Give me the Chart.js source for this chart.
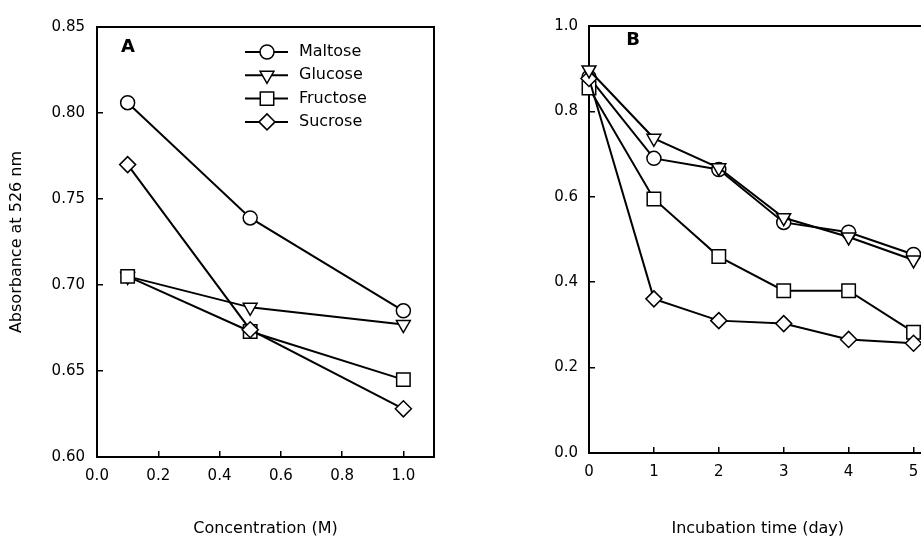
<!DOCTYPE html>
<html lang="en">
<head>
<meta charset="UTF-8">
<script src="https://cdn.jsdelivr.net/npm/chart.js@4.4.0/dist/chart.umd.min.js"></script>
<title>Absorbance at 526 nm</title>
<style>
  html, body { margin: 0; padding: 0; background: #fff; width: 921px; height: 540px; overflow: hidden; }
  #chartA { position: absolute; left: 0; top: 0; }
  #chartB { position: absolute; left: 500px; top: 0; }
</style>
</head>
<body>
<canvas id="chartA" width="460" height="540"></canvas>
<canvas id="chartB" width="460" height="540"></canvas>
<script>
// panel A: absorbance vs sugar concentration
var concA = [0.1, 0.5, 1.0];
var maltoseA = [0.806, 0.739, 0.685];
var glucoseA = [0.705, 0.687, 0.677];
var fructoseA = [0.705, 0.673, 0.645];
var sucroseA = [0.770, 0.674, 0.628];
var xTicksA = [0, 0.2, 0.4, 0.6, 0.8, 1.0];
var yTicksA = [0.60, 0.65, 0.70, 0.75, 0.80, 0.85];

// panel B: absorbance vs incubation time
var daysB = [0, 1, 2, 3, 4, 5];
var maltoseB = [0.880, 0.690, 0.664, 0.540, 0.517, 0.465];
var glucoseB = [0.897, 0.737, 0.668, 0.551, 0.506, 0.452];
var fructoseB = [0.855, 0.595, 0.460, 0.380, 0.380, 0.283];
var sucroseB = [0.877, 0.361, 0.310, 0.303, 0.266, 0.257];
var xTicksB = [0, 1, 2, 3, 4, 5];
var yTicksB = [0, 0.2, 0.4, 0.6, 0.8, 1.0];

var sugars = ['Maltose', 'Glucose', 'Fructose', 'Sucrose'];
var markers = [
    { pointStyle: 'circle', radius: 7, rotation: 0 },
    { pointStyle: 'triangle', radius: 8, rotation: 180 },
    { pointStyle: 'rect', radius: 9.5, rotation: 0 },
    { pointStyle: 'rectRot', radius: 8, rotation: 0 }
];

var FONT = 'DejaVu Sans';

// stacking of overlapping markers (lower = drawn on top)
function makeSets(xs, series, stack)
{
    return series.map(function (ys, i) {
        return {
            label: sugars[i],
            data: xs.map(function (x, j) { return { x: x, y: ys[j] }; }),
            order: stack[i],
            borderColor: '#000',
            borderWidth: 2,
            pointStyle: markers[i].pointStyle,
            pointRadius: markers[i].radius,
            pointRotation: markers[i].rotation,
            pointBackgroundColor: '#fff',
            pointBorderColor: '#000',
            pointBorderWidth: 1.5,
            showLine: true,
            tension: 0,
            fill: false,
            clip: false
        };
    });
}

function axis(pos, min, max, tickVals, digits, size, pad, title)
{
    var horiz = pos === 'bottom';
    return {
        type: 'linear',
        position: pos,
        min: min,
        max: max,
        afterBuildTicks: function (ax) { ax.ticks = tickVals.map(function (v) { return { value: v }; }); },
        afterFit: function (ax) { if (horiz) ax.height = size; else ax.width = size; },
        ticks: {
            callback: function (v) { return Number(v).toFixed(digits); },
            color: '#000',
            font: { family: FONT, size: 15 },
            padding: pad,
            maxRotation: 0,
            autoSkip: false
        },
        grid: { drawOnChartArea: false, drawTicks: true, tickLength: -6, color: '#000', lineWidth: 1.5 },
        border: { display: true, color: '#000', width: 2 },
        title: title ? {
            display: true,
            text: title,
            color: '#000',
            font: { family: FONT, size: 16 },
            padding: horiz ? { top: 0, bottom: 2 } : { top: 7, bottom: 0 }
        } : { display: false }
    };
}

function frame(pos, min, max)
{
    return {
        type: 'linear',
        position: pos,
        min: min,
        max: max,
        afterFit: function (ax) { if (pos === 'top') ax.height = 0; else ax.width = 0; },
        ticks: { display: false },
        grid: { display: false },
        border: { display: true, color: '#000', width: 2 }
    };
}

// panel letter + legend drawn by hand (legend needs line + marker)
var decorPlugin = {
    id: 'decor',
    afterDraw: function (chart, args, opts) {
        var ctx = chart.ctx;
        ctx.save();
        ctx.fillStyle = '#000';
        ctx.font = 'bold 18px ' + FONT;
        ctx.textAlign = 'center';
        ctx.textBaseline = 'middle';
        ctx.fillText(opts.letter, opts.lx, opts.ly);
        if (opts.legend) {
            ctx.font = '16px ' + FONT;
            ctx.textAlign = 'left';
            sugars.forEach(function (name, i) {
                var y = 52 + i * 23.3;
                ctx.strokeStyle = '#000';
                ctx.lineWidth = 2;
                ctx.beginPath();
                ctx.moveTo(245, y);
                ctx.lineTo(288, y);
                ctx.stroke();
                ctx.fillStyle = '#fff';
                ctx.lineWidth = 1.5;
                Chart.helpers.drawPoint(ctx, {
                    pointStyle: markers[i].pointStyle,
                    radius: markers[i].radius,
                    rotation: markers[i].rotation,
                    borderWidth: 1.5
                }, 267, y);
                ctx.fillStyle = '#000';
                ctx.fillText(name, 299, y);
            });
        }
        ctx.restore();
    }
};

var common = {
    responsive: false,
    animation: false,
    devicePixelRatio: 1,
    plugins: { legend: { display: false }, tooltip: { enabled: false } }
};

new Chart(document.getElementById('chartA').getContext('2d'), {
    type: 'scatter',
    data: { datasets: makeSets(concA, [maltoseA, glucoseA, fructoseA, sucroseA], [3, 2, 1, 0]) },
    plugins: [decorPlugin],
    options: Object.assign({}, common, {
        layout: { padding: { left: 0, top: 19, right: 26, bottom: 0 } },
        plugins: { legend: { display: false }, tooltip: { enabled: false },
                   decor: { letter: 'A', lx: 128, ly: 47, legend: true } },
        scales: {
            x: axis('bottom', 0, 1.1, xTicksA, 1, 83, 16, 'Concentration (M)'),
            y: axis('left', 0.60, 0.85, yTicksA, 2, 97, 18, 'Absorbance at 526 nm'),
            x2: frame('top', 0, 1.1),
            y2: frame('right', 0.60, 0.85)
        }
    })
});

new Chart(document.getElementById('chartB').getContext('2d'), {
    type: 'scatter',
    data: { datasets: makeSets(daysB, [maltoseB, glucoseB, fructoseB, sucroseB], [3, 0, 2, 1]) },
    plugins: [decorPlugin],
    options: Object.assign({}, common, {
        layout: { padding: { left: 0, top: 15, right: 33.5, bottom: 0 } },
        plugins: { legend: { display: false }, tooltip: { enabled: false },
                   decor: { letter: 'B', lx: 133, ly: 40, legend: false } },
        scales: {
            x: axis('bottom', 0, 5.2, xTicksB, 0, 87, 16, 'Incubation time (day)'),
            y: axis('left', 0, 1.0, yTicksB, 1, 89, 17, null),
            x2: frame('top', 0, 5.2),
            y2: frame('right', 0, 1.0)
        }
    })
});
</script>
</body>
</html>
